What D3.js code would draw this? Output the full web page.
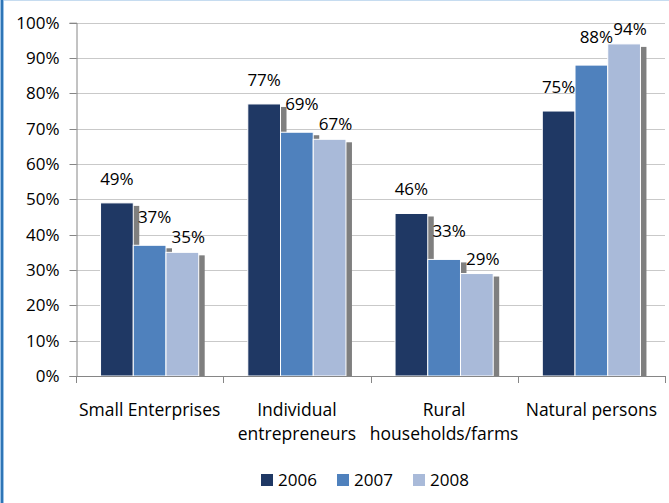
<!DOCTYPE html>
<html>
<head>
<meta charset="utf-8">
<script src="https://cdn.jsdelivr.net/npm/d3@7/dist/d3.min.js"></script>
<style>
  html, body { margin: 0; padding: 0; background: #fff; }
  svg { display: block; }
  text { font-family: "Open Sans", sans-serif; fill: #000; }
</style>
</head>
<body>
<svg id="chart" width="669" height="503"></svg>
<script>
const categories = [["Small Enterprises"], ["Individual", "entrepreneurs"], ["Rural", "households/farms"], ["Natural persons"]];
const seriesNames = ["2006", "2007", "2008"];
const values2006 = [0.49, 0.77, 0.46, 0.75];
const values2007 = [0.37, 0.69, 0.33, 0.88];
const values2008 = [0.35, 0.67, 0.29, 0.94];
const yTicks = [0, 0.1, 0.2, 0.3, 0.4, 0.5, 0.6, 0.7, 0.8, 0.9, 1.0];

const seriesValues = [values2006, values2007, values2008];
const colors = ["#1f3864", "#4f81bd", "#a9bad9"];
// label placement tweaks per series (relative to bar top/center)
const labelShift = [{dx: 0, dy: -18}, {dx: 5, dy: -22}, {dx: 6, dy: -9}];

const svg = d3.select("#chart");
const W = 669, H = 503;
const plot = {left: 76, right: 665, top: 22.7, bottom: 376};

// border
svg.append("rect").attr("x", 0).attr("y", 0).attr("width", W).attr("height", 1).attr("fill", "#c6dcf0");
svg.append("rect").attr("x", 0).attr("y", 0).attr("width", 4).attr("height", H).attr("fill", "#9dc3e6");
svg.append("rect").attr("x", 1).attr("y", 0).attr("width", 2).attr("height", H).attr("fill", "#2e75b6");

const catKeys = categories.map(c => c.join(" "));
const x0 = d3.scaleBand().domain(catKeys).range([plot.left, plot.right]).paddingInner(0).paddingOuter(0);
const x1 = d3.scaleBand().domain(seriesNames).range([0, x0.bandwidth()]).paddingInner(0).paddingOuter(0.75);
const y = d3.scaleLinear().domain([0, 1]).range([plot.bottom, plot.top]);

// gridlines
svg.append("g").selectAll("line").data(yTicks.filter(t => t > 0)).join("line")
  .attr("x1", plot.left).attr("x2", plot.right)
  .attr("y1", d => Math.round(y(d)) + 0.5).attr("y2", d => Math.round(y(d)) + 0.5)
  .attr("stroke", "#c9c9c9").attr("stroke-width", 1);

// y axis
const yAxis = d3.axisLeft(y).tickValues(yTicks).tickFormat(d3.format(".0%")).tickSize(7).tickPadding(10);
const gy = svg.append("g").attr("transform", `translate(${plot.left + 0.5},0)`).call(yAxis);
gy.select(".domain").attr("stroke", "#868686");
gy.selectAll(".tick line").attr("stroke", "#868686");
gy.selectAll(".tick text").attr("font-size", "17px").attr("font-family", "Open Sans, sans-serif").attr("fill", "#000");
gy.selectAll(".tick").attr("transform", d => `translate(0,${Math.round(y(d)) + 0.5})`);

// bars
const groups = svg.append("g").selectAll("g").data(catKeys).join("g")
  .attr("transform", d => `translate(${x0(d)},0)`);

const barData = (c, ci) => seriesNames.map((s, si) => ({s, si, v: seriesValues[si][ci]}));

groups.each(function(c, ci) {
  const g = d3.select(this);
  const data = barData(c, ci);
  data.forEach(d => {
    // shadow
    g.append("rect")
      .attr("x", x1(d.s) + 6).attr("y", y(d.v) + 3)
      .attr("width", x1.bandwidth()).attr("height", y(0) - y(d.v) - 3)
      .attr("fill", "#7f7f7f");
    // bar
    g.append("rect")
      .attr("x", x1(d.s)).attr("y", y(d.v))
      .attr("width", x1.bandwidth()).attr("height", y(0) - y(d.v))
      .attr("fill", colors[d.si]).attr("stroke", "#fff").attr("stroke-width", 1);
  });
  data.forEach(d => {
    g.append("text")
      .attr("x", x1(d.s) + x1.bandwidth() / 2 + labelShift[d.si].dx)
      .attr("y", y(d.v) + labelShift[d.si].dy)
      .attr("text-anchor", "middle").attr("font-size", "17px")
      .text(d3.format(".0%")(d.v));
  });
});

// x axis line + ticks
svg.append("line").attr("x1", plot.left).attr("x2", plot.right)
  .attr("y1", plot.bottom + 0.5).attr("y2", plot.bottom + 0.5).attr("stroke", "#868686");
const bounds = catKeys.map(k => x0(k)).concat([plot.right]);
svg.append("g").selectAll("line").data(bounds).join("line")
  .attr("x1", d => Math.round(d) + 0.5).attr("x2", d => Math.round(d) + 0.5)
  .attr("y1", plot.bottom).attr("y2", plot.bottom + 7).attr("stroke", "#868686");

// category labels
svg.append("g").selectAll("text").data(categories).join("text")
  .attr("x", (d, i) => x0(catKeys[i]) + x0.bandwidth() / 2)
  .attr("y", 416)
  .attr("text-anchor", "middle").attr("font-size", "17.5px")
  .each(function(lines) {
    d3.select(this).selectAll("tspan").data(lines).join("tspan")
      .attr("x", d3.select(this).attr("x"))
      .attr("dy", (l, j) => j === 0 ? 0 : 24)
      .text(l => l);
  });

// legend
const legend = svg.append("g").selectAll("g").data(seriesNames).join("g")
  .attr("transform", (d, i) => `translate(${261 + i * 76},474)`);
legend.append("rect").attr("width", 12).attr("height", 12).attr("fill", (d, i) => colors[i]);
legend.append("text").attr("x", 17).attr("y", 12).attr("font-size", "17px").text(d => d);
</script>
</body>
</html>
